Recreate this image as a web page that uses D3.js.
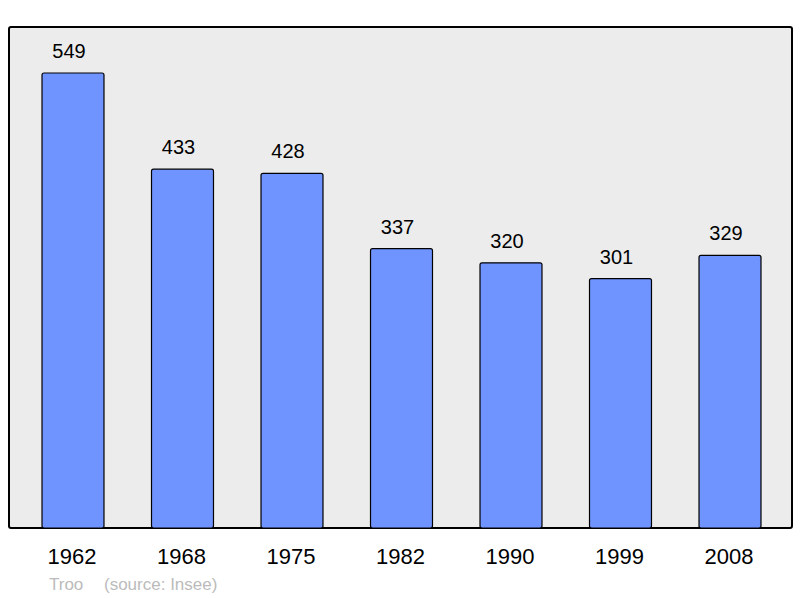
<!DOCTYPE html>
<html>
<head>
<meta charset="utf-8">
<script src="https://cdn.jsdelivr.net/npm/d3@7"></script>
<style>
  body { margin: 0; background: #fff; }
  text { font-family: "Liberation Sans", Arial, sans-serif; }
</style>
</head>
<body>
<svg id="chart" width="800" height="598"></svg>
<script>
/** Census years and population values */
var years = ["1962", "1968", "1975", "1982", "1990", "1999", "2008"];
var population = [549, 433, 428, 337, 320, 301, 329];
var commune = "Troo";
var source = "(source: Insee)";

var svg = d3.select("#chart");

// frame of the plot
var frame = { x0: 9, y0: 27, x1: 792, y1: 528 };

var x = d3.scaleBand()
    .domain(years)
    .range([18.25, 784.75])
    .paddingInner(0.434)
    .paddingOuter(0.217);

var y = d3.scaleLinear()
    .domain([0, 604.5])
    .range([frame.y1, frame.y0]);

svg.append("rect")
    .attr("x", frame.x0)
    .attr("y", frame.y0)
    .attr("width", frame.x1 - frame.x0)
    .attr("height", frame.y1 - frame.y0)
    .attr("rx", 2)
    .attr("fill", "#ececec")
    .attr("stroke", "#000")
    .attr("stroke-width", 2);

var data = years.map(function(d, i) { return { year: d, value: population[i] }; });

svg.selectAll(".bar")
    .data(data)
    .enter().append("rect")
    .attr("class", "bar")
    .attr("x", function(d) { return x(d.year); })
    .attr("y", function(d) { return y(d.value); })
    .attr("width", x.bandwidth())
    .attr("height", function(d) { return y(0) - y(d.value); })
    .attr("rx", 2)
    .attr("fill", "#7094ff")
    .attr("stroke", "#000")
    .attr("stroke-width", 1.2);

// value labels above bars (sit a bit left of centre, like the original)
svg.selectAll(".val")
    .data(data)
    .enter().append("text")
    .attr("class", "val")
    .attr("x", function(d) { return x(d.year) + x.bandwidth() / 2 - 4; })
    .attr("y", function(d) { return y(d.value) - 15; })
    .attr("text-anchor", "middle")
    .attr("font-size", 20)
    .attr("fill", "#000")
    .text(function(d) { return d.value; });

// year labels under the frame
svg.selectAll(".yr")
    .data(data)
    .enter().append("text")
    .attr("class", "yr")
    .attr("x", function(d) { return x(d.year) + x.bandwidth() / 2 - 1; })
    .attr("y", 564)
    .attr("text-anchor", "middle")
    .attr("font-size", 22)
    .attr("fill", "#000")
    .text(function(d) { return d.year; });

svg.append("text")
    .attr("x", 49)
    .attr("y", 590)
    .attr("font-size", 17)
    .attr("fill", "#bbbbbb")
    .text(commune);

svg.append("text")
    .attr("x", 104)
    .attr("y", 590)
    .attr("font-size", 17)
    .attr("fill", "#bbbbbb")
    .text(source);
</script>
</body>
</html>
